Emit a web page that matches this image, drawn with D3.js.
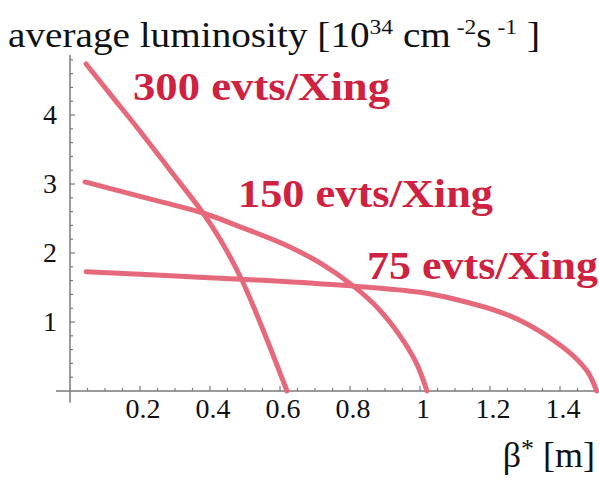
<!DOCTYPE html>
<html>
<head>
<meta charset="utf-8">
<script src="https://cdn.jsdelivr.net/npm/d3@7"></script>
<style>
  body { margin: 0; background: #fff; }
  text { font-family: "Liberation Serif", "DejaVu Serif", serif; }
</style>
</head>
<body>
<div id="chart"></div>
<script>
// values (beta* in m, luminosity in 1e34 cm^-2 s^-1)
const beta300 = [0.046, 0.12, 0.19, 0.28, 0.38, 0.43, 0.49, 0.56, 0.62];
const lumi300 = [4.74, 4.27, 3.83, 3.24, 2.58, 2.19, 1.62, 0.78, 0];

const beta150 = [0.043, 0.2, 0.38, 0.486, 0.61, 0.72, 0.81, 0.88, 0.943, 0.99, 1.02];
const lumi150 = [3.03, 2.82, 2.58, 2.38, 2.13, 1.84, 1.52, 1.20, 0.80, 0.40, 0];

const beta75 = [0.046, 0.37, 0.6, 0.81, 1.0, 1.1, 1.237, 1.31, 1.38, 1.44, 1.48, 1.505];
const lumi75 = [1.73, 1.65, 1.59, 1.52, 1.43, 1.33, 1.13, 0.96, 0.74, 0.50, 0.27, 0];

const seriesNames = ["300 evts/Xing", "150 evts/Xing", "75 evts/Xing"];
const xTickValues = [0.2, 0.4, 0.6, 0.8, 1, 1.2, 1.4];
const yTickValues = [1, 2, 3, 4];

const width = 599, height = 480;
const lineColor = "#e5697a";
const textColor = "#cf2140";
const axisColor = "#7a7a7a";

const svg = d3.select("#chart").append("svg")
    .attr("width", width)
    .attr("height", height);

const x = d3.scaleLinear().domain([0, 1.5]).range([70, 595]);
const y = d3.scaleLinear().domain([0, 4.87]).range([391, 55]);

// axes lines
svg.append("line")
    .attr("x1", x(-0.04)).attr("x2", width)
    .attr("y1", y(0)).attr("y2", y(0))
    .attr("stroke", axisColor).attr("stroke-width", 1.5);
svg.append("line")
    .attr("x1", x(0)).attr("x2", x(0))
    .attr("y1", y(4.87)).attr("y2", y(-0.17))
    .attr("stroke", axisColor).attr("stroke-width", 1.5);

// x ticks: major every 0.2, minor every 0.05, pointing up
const xMinor = d3.range(1, 31).map(i => i * 0.05);
svg.append("g").selectAll("line")
    .data(xMinor)
    .join("line")
    .attr("x1", d => x(d)).attr("x2", d => x(d))
    .attr("y1", y(0))
    .attr("y2", d => y(0) - (Math.abs(d * 5 - Math.round(d * 5)) < 1e-6 ? 5 : 3))
    .attr("stroke", axisColor).attr("stroke-width", 1.2);

// y ticks: major every 1, minor every 0.2, pointing right
const yMinor = d3.range(1, 25).map(i => i * 0.2);
svg.append("g").selectAll("line")
    .data(yMinor)
    .join("line")
    .attr("x1", x(0))
    .attr("x2", d => x(0) + (Math.abs(d - Math.round(d)) < 1e-6 ? 5 : 3))
    .attr("y1", d => y(d)).attr("y2", d => y(d))
    .attr("stroke", axisColor).attr("stroke-width", 1.2);

// tick labels
svg.append("g").selectAll("text")
    .data(xTickValues)
    .join("text")
    .attr("x", d => x(d) + 3)
    .attr("y", 418)
    .attr("text-anchor", "middle")
    .attr("font-size", 28)
    .attr("fill", "#111")
    .text(d => d3.format("")(d));

svg.append("g").selectAll("text")
    .data(yTickValues)
    .join("text")
    .attr("x", 57)
    .attr("y", d => y(d) + 9)
    .attr("text-anchor", "end")
    .attr("font-size", 28)
    .attr("fill", "#111")
    .text(d => d);

// curves
const series = [
  {name: seriesNames[0], pts: beta300.map((b, i) => [b, lumi300[i]])},
  {name: seriesNames[1], pts: beta150.map((b, i) => [b, lumi150[i]])},
  {name: seriesNames[2], pts: beta75.map((b, i) => [b, lumi75[i]])}
];

const line = d3.line()
    .x(d => x(d[0]))
    .y(d => y(d[1]))
    .curve(d3.curveCatmullRom.alpha(0.5));

svg.append("g").selectAll("path")
    .data(series)
    .join("path")
    .attr("d", d => line(d.pts))
    .attr("fill", "none")
    .attr("stroke", lineColor)
    .attr("stroke-width", 5)
    .attr("stroke-linecap", "round");

// series labels
const labelPos = [[133, 100, 257], [238, 207, 255], [367, 279, 231]];
svg.append("g").selectAll("text")
    .data(series)
    .join("text")
    .attr("x", (d, i) => labelPos[i][0])
    .attr("y", (d, i) => labelPos[i][1])
    .attr("textLength", (d, i) => labelPos[i][2])
    .attr("lengthAdjust", "spacingAndGlyphs")
    .attr("font-size", 40)
    .attr("font-weight", "bold")
    .attr("fill", textColor)
    .text(d => d.name);

// axis titles
const title = svg.append("text")
    .attr("x", 8)
    .attr("y", 47)
    .attr("font-size", 35)
    .attr("fill", "#111");
title.append("tspan").text("average luminosity [10");
title.append("tspan").attr("dy", -13).attr("font-size", 21).text("34");
title.append("tspan").attr("dy", 13).text(" cm");
title.append("tspan").attr("dy", -13).attr("font-size", 21).text(" -2");
title.append("tspan").attr("dy", 13).text("s");
title.append("tspan").attr("dy", -13).attr("font-size", 21).text(" -1");
title.append("tspan").attr("dy", 13).text(" ]");
title.attr("textLength", 532).attr("lengthAdjust", "spacingAndGlyphs");

const xTitle = svg.append("text")
    .attr("x", 595)
    .attr("y", 467)
    .attr("text-anchor", "end")
    .attr("font-size", 36)
    .attr("fill", "#111");
xTitle.append("tspan").text("β");
xTitle.append("tspan").attr("dy", -10).attr("font-size", 26).text("*");
xTitle.append("tspan").attr("dy", 10).text("  [m]");
</script>
</body>
</html>
